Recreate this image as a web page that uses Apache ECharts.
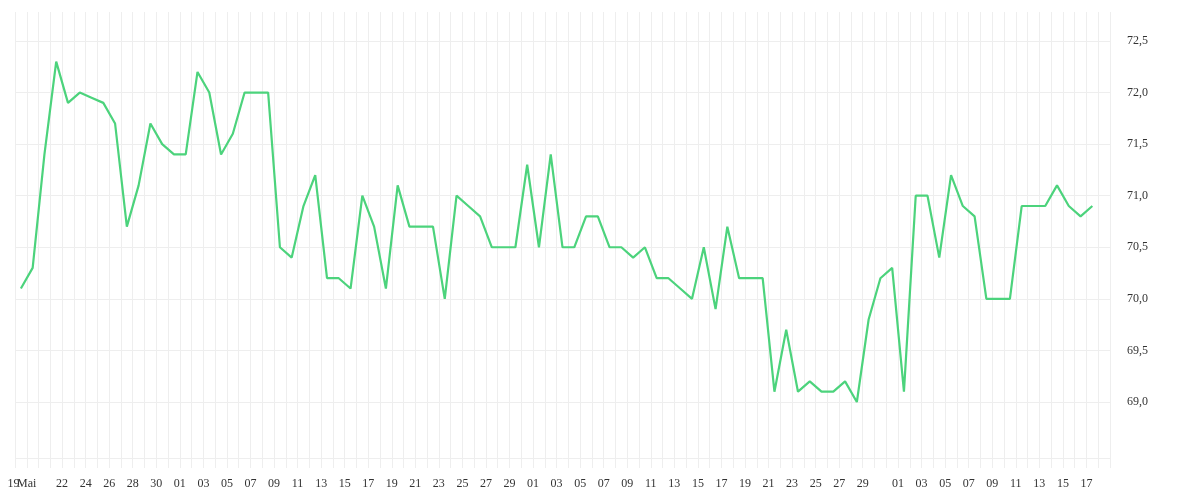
<!DOCTYPE html>
<html lang="de">

<head>
    <meta charset="UTF-8">
    <title>Verlauf</title>
    <script src="https://cdn.jsdelivr.net/npm/echarts@6/dist/echarts.min.js"></script>
    <style>
        html, body { margin: 0; padding: 0; background: #fff; }
        #main { width: 1200px; height: 500px; }
    </style>
</head>

<body>
    <div id="main"></div>
    <script>
        // Werte pro Tag (ab 18.05.)
        var values = [
            70.1, 70.3, 71.4, 72.3, 71.9, 72.0, 71.95, 71.9, 71.7, 70.7,
            71.1, 71.7, 71.5, 71.4, 71.4, 72.2, 72.0, 71.4, 71.6, 72.0,
            72.0, 72.0, 70.5, 70.4, 70.9, 71.2, 70.2, 70.2, 70.1, 71.0,
            70.7, 70.1, 71.1, 70.7, 70.7, 70.7, 70.0, 71.0, 70.9, 70.8,
            70.5, 70.5, 70.5, 71.3, 70.5, 71.4, 70.5, 70.5, 70.8, 70.8,
            70.5, 70.5, 70.4, 70.5, 70.2, 70.2, 70.1, 70.0, 70.5, 69.9,
            70.7, 70.2, 70.2, 70.2, 69.1, 69.7, 69.1, 69.2, 69.1, 69.1,
            69.2, 69.0, 69.8, 70.2, 70.3, 69.1, 71.0, 71.0, 70.4, 71.2,
            70.9, 70.8, 70.0, 70.0, 70.0, 70.9, 70.9, 70.9, 71.1, 70.9,
            70.8, 70.9
        ];

        // Beschriftung an den Tagesgrenzen (leer = ohne Text)
        var tickLabels = [
            '19', 'Mai', '', '', '22', '', '24', '', '26', '', '28', '', '30', '',
            '01', '', '03', '', '05', '', '07', '', '09', '', '11', '', '13', '',
            '15', '', '17', '', '19', '', '21', '', '23', '', '25', '', '27', '',
            '29', '', '01', '', '03', '', '05', '', '07', '', '09', '', '11', '',
            '13', '', '15', '', '17', '', '19', '', '21', '', '23', '', '25', '',
            '27', '', '29', '', '', '01', '', '03', '', '05', '', '07', '', '09',
            '', '11', '', '13', '', '15', '', '17', '', ''
        ];

        var yTicks = [69.0, 69.5, 70.0, 70.5, 71.0, 71.5, 72.0, 72.5];

        // Tage als Kategorien (eine mehr als Werte, rechts bleibt ein Feld frei)
        var days = [];
        var start = Date.UTC(2024, 4, 18);
        for (var i = 0; i <= values.length; i++) {
            days.push(new Date(start + i * 864e5).toISOString().slice(0, 10));
        }

        var gridColor = '#eeeeee';
        var labelFont = {
            fontFamily: 'Liberation Serif',
            fontSize: 12,
            color: '#333333'
        };

        var myChart = echarts.init(document.getElementById('main'));

        var option = {
            animation: false,
            grid: {
                left: 15,
                right: 90,
                top: 12,
                bottom: 42,
                containLabel: false,
                outerBoundsMode: 'none'
            },
            xAxis: [
                {
                    type: 'category',
                    data: days,
                    boundaryGap: true,
                    axisLine: { show: false },
                    axisTick: { show: true, interval: 0, length: 10, lineStyle: { color: gridColor } },
                    axisLabel: { show: false },
                    splitLine: { show: true, interval: 0, lineStyle: { color: gridColor } }
                },
                {
                    type: 'category',
                    data: tickLabels.map(function (t, i) { return String(i); }),
                    boundaryGap: false,
                    position: 'bottom',
                    axisLine: { show: false },
                    axisTick: { show: false },
                    splitLine: { show: false },
                    axisLabel: Object.assign({
                        interval: 0,
                        margin: 20,
                        formatter: function (v, idx) {
                            var t = tickLabels[idx];
                            if (t === '19' && idx === 0) return '{first|' + t + '}';
                            return t;
                        },
                        rich: {
                            first: { padding: [0, 3, 0, 0], fontFamily: 'Liberation Serif', fontSize: 12, color: '#333333' }
                        }
                    }, labelFont)
                }
            ],
            yAxis: {
                type: 'value',
                position: 'right',
                min: 68.457,
                max: 72.781,
                minInterval: 0.5,
                maxInterval: 0.5,
                splitNumber: 8,
                axisLine: { show: false },
                axisTick: { show: false },
                splitLine: {
                    show: true,
                    lineStyle: {
                        // unterste Linie = Rand, 68,5 und oberer Rand ohne Linie
                        color: [gridColor, 'rgba(0,0,0,0)', gridColor, gridColor, gridColor, gridColor,
                            gridColor, gridColor, gridColor, gridColor, 'rgba(0,0,0,0)']
                    }
                },
                axisLabel: Object.assign({
                    margin: 17,
                    showMinLabel: false,
                    showMaxLabel: false,
                    formatter: function (v) {
                        var r = Math.round(v * 10) / 10;
                        if (yTicks.indexOf(r) < 0 || Math.abs(r - v) > 1e-6) return '';
                        return r.toFixed(1).replace('.', ',');
                    }
                }, labelFont)
            },
            series: [
                {
                    type: 'line',
                    data: values,
                    xAxisIndex: 0,
                    symbol: 'none',
                    lineStyle: { color: '#4cd37c', width: 2.2 },
                    itemStyle: { color: '#4cd37c' }
                }
            ]
        };

        myChart.setOption(option);
    </script>
</body>

</html>
